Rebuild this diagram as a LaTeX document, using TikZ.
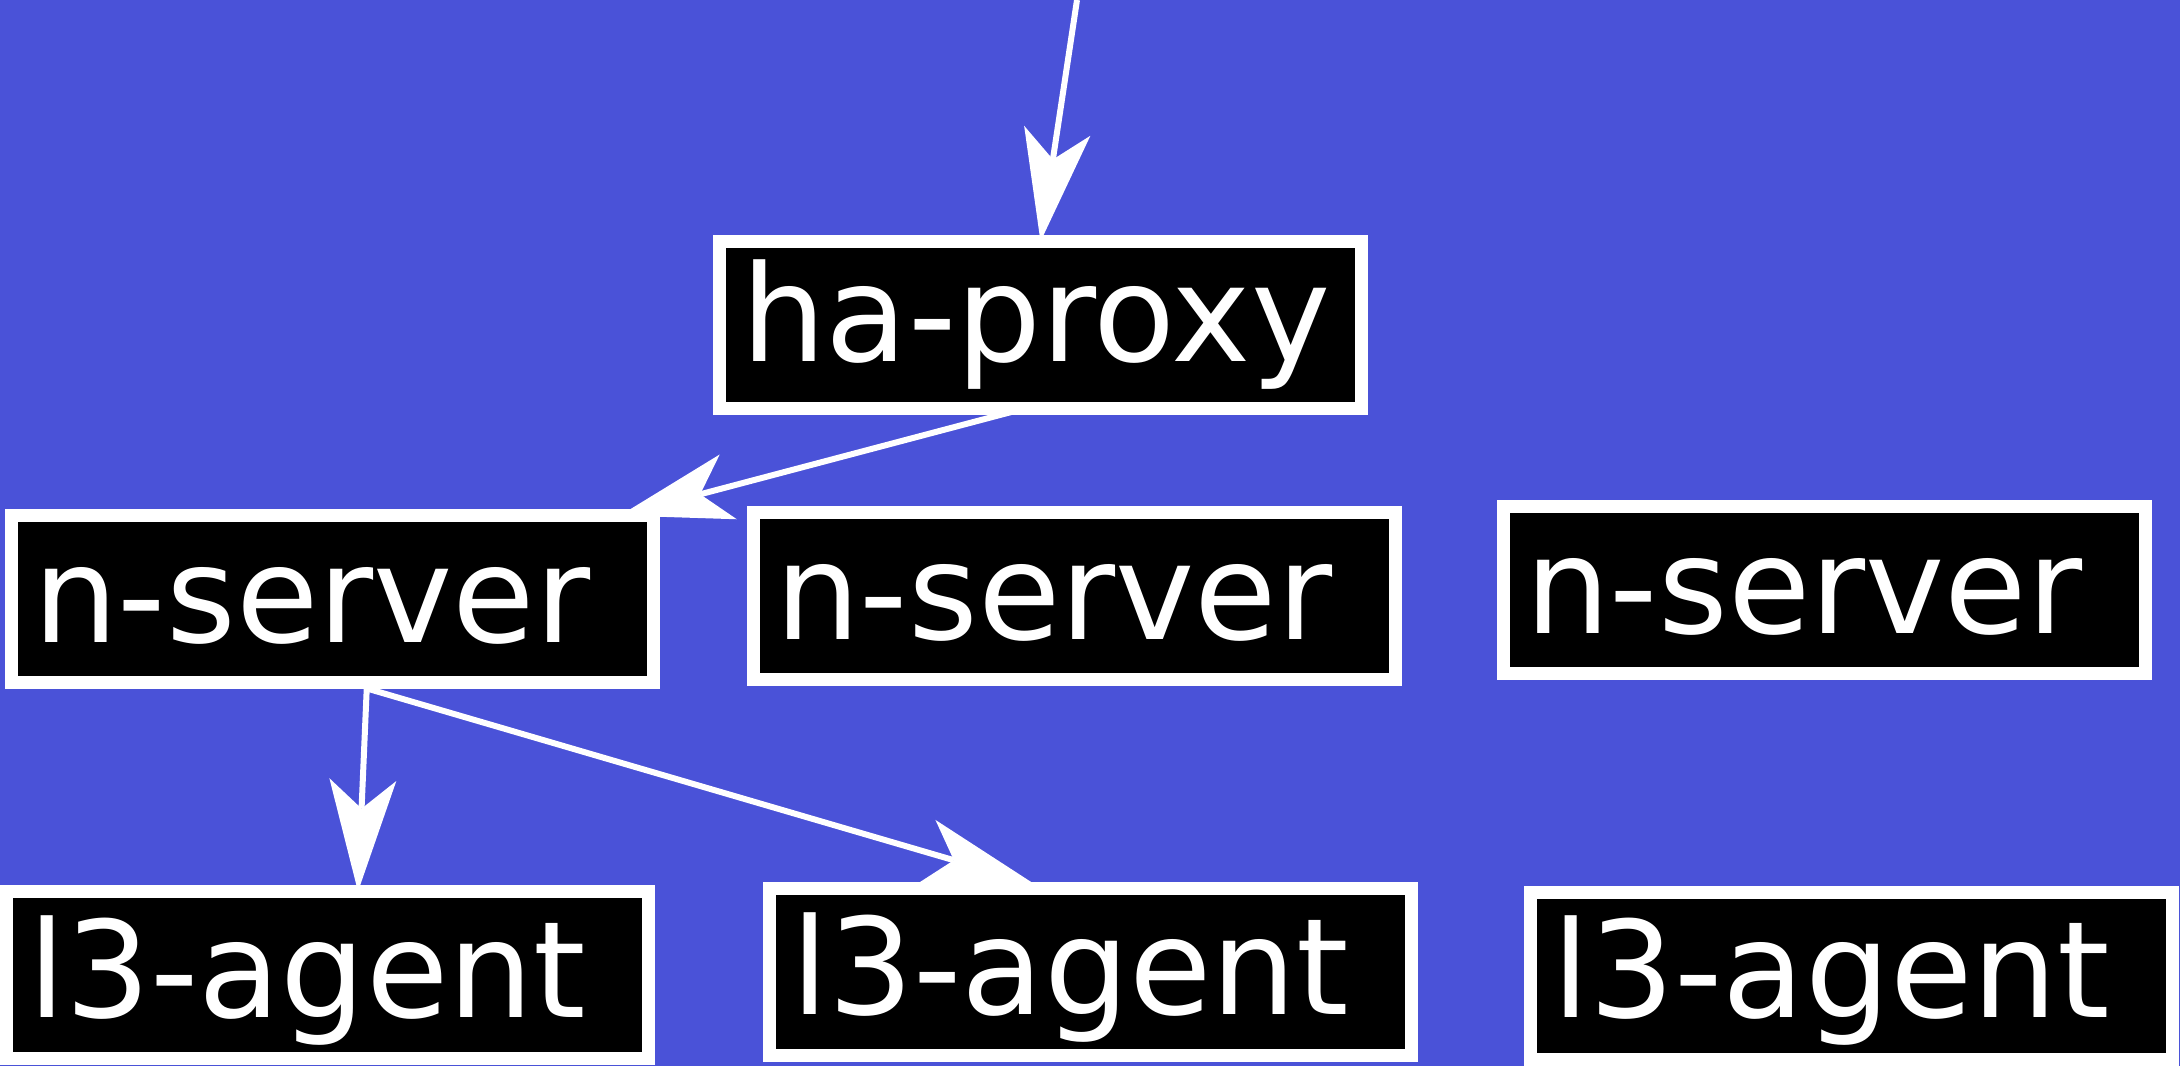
\documentclass[tikz,border=0pt]{standalone}
\usepackage{fontspec}
\setmainfont{DejaVu Sans}
\usetikzlibrary{arrows.meta}
\definecolor{bgblue}{RGB}{74,82,216}
\tikzset{
  boxnode/.style={draw=white, fill=black, line width=13pt, minimum width=642pt,
    minimum height=167pt, inner sep=0pt, outer sep=0pt, anchor=north west},
  boxtext/.style={text=white, inner sep=0pt, outer sep=0pt, anchor=base west,
    font=\fontsize{134pt}{160pt}\selectfont},
  arr/.style={draw=white, line width=6pt,
    -{Stealth[length=112pt, width=67pt, inset=29pt, line width=0pt]}}
}
\begin{document}
\begin{tikzpicture}[x=1pt,y=-1pt]
\fill[bgblue] (0,0) rectangle (2180,1066);
\useasboundingbox (0,0) rectangle (2180,1066);
\clip (0,0) rectangle (2180,1066);
% boxes
\node[boxnode] (hp)   at (719.5,241.5) {};
\node[boxnode] (ns1)  at (11.5,515.5) {};
\node[boxnode] (ns2)  at (753.5,512.5) {};
\node[boxnode] (ns3)  at (1503.5,506.5) {};
\node[boxnode] (l3a1) at (6.5,891.5) {};
\node[boxnode] (l3a2) at (769.5,888.5) {};
\node[boxnode] (l3a3) at (1530.5,892.5) {};
% labels
\node[boxtext] (hpT)   at (741,361)  {ha-proxy};
\node[boxtext] (ns1T)  at (33,642)   {n-server};
\node[boxtext] (ns2T)  at (775,639)  {n-server};
\node[boxtext] (ns3T)  at (1525,633) {n-server};
\node[boxtext] (l3a1T) at (28,1017)  {l3-agent};
\node[boxtext] (l3a2T) at (791,1014) {l3-agent};
\node[boxtext] (l3a3T) at (1552,1017){l3-agent};
% connectors
\coordinate (src) at (1077,0);
\draw[arr] (src) -- (hp.north);
\draw[arr] ([xshift=-16pt]hp.south) -- ([xshift=-33.5pt]ns1.north east);
\draw[arr] ([xshift=34.5pt]ns1.south) -- ([xshift=30.5pt]l3a1.north);
\draw[arr] ([xshift=34.5pt,yshift=-6pt]ns1.south) -- ([xshift=-57pt,yshift=5pt]l3a2.north);
\end{tikzpicture}
\end{document}
